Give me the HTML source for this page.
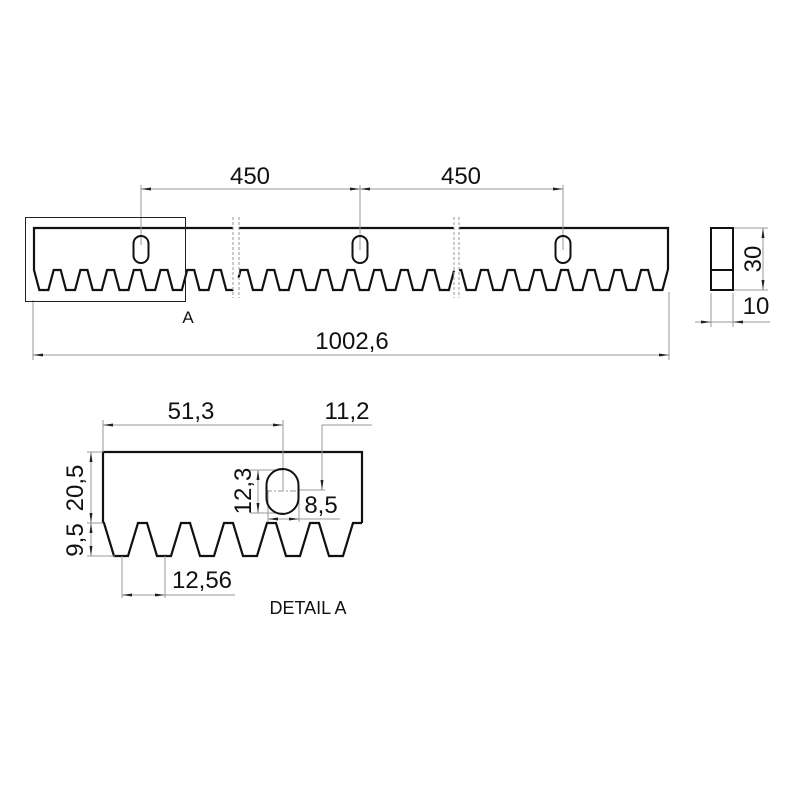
<!DOCTYPE html>
<html><head><meta charset="utf-8"><style>
html,body{margin:0;padding:0;background:#fff;}
svg{display:block;}
text{font-family:"Liberation Sans",sans-serif;fill:#111;}
</style></head><body>
<svg id="s" width="800" height="800" viewBox="0 0 800 800" xmlns="http://www.w3.org/2000/svg">
<defs>
<marker id="ar" markerWidth="10" markerHeight="6" refX="10" refY="3" orient="auto-start-reverse" markerUnits="userSpaceOnUse">
<path d="M0,1.5 L10,3 L0,4.5 Z" fill="#222"/></marker>
</defs>
<g id="outl" fill="none" stroke="#111" stroke-width="2.2" stroke-linejoin="miter"></g>
<g fill="none" stroke="#999" stroke-width="1">
<line x1="233" y1="217" x2="233" y2="298" stroke-dasharray="3,2"/>
<line x1="239" y1="217" x2="239" y2="298" stroke-dasharray="3,2"/>
<line x1="454" y1="217" x2="454" y2="298" stroke-dasharray="3,2"/>
<line x1="459" y1="217" x2="459" y2="298" stroke-dasharray="3,2"/>
<line x1="141" y1="185" x2="141" y2="245"/>
<line x1="360" y1="185" x2="360" y2="250"/>
<line x1="563" y1="185" x2="563" y2="250"/>
<line x1="141" y1="189" x2="360" y2="189" marker-start="url(#ar)" marker-end="url(#ar)"/>
<line x1="360" y1="189" x2="563" y2="189" marker-start="url(#ar)" marker-end="url(#ar)"/>
<line x1="33" y1="300" x2="33" y2="360"/>
<line x1="669" y1="292" x2="669" y2="360"/>
<line x1="33" y1="355" x2="669" y2="355" marker-start="url(#ar)" marker-end="url(#ar)"/>
<line x1="733" y1="228" x2="768" y2="228"/>
<line x1="733" y1="290" x2="768" y2="290"/>
<line x1="763" y1="228" x2="763" y2="290" marker-start="url(#ar)" marker-end="url(#ar)"/>
<line x1="711" y1="293" x2="711" y2="327"/>
<line x1="733" y1="293" x2="733" y2="327"/>
<line x1="695" y1="322" x2="711" y2="322" marker-end="url(#ar)"/>
<line x1="770" y1="322" x2="733" y2="322" marker-end="url(#ar)"/>
<line x1="711" y1="322" x2="733" y2="322"/>
<line x1="103" y1="420" x2="103" y2="452"/>
<line x1="283" y1="420" x2="283" y2="490"/>
<line x1="103" y1="425" x2="283" y2="425" marker-start="url(#ar)" marker-end="url(#ar)"/>
<line x1="322" y1="425" x2="372" y2="425"/>
<line x1="322" y1="425" x2="322" y2="490" marker-end="url(#ar)"/>
<line x1="299" y1="490" x2="325" y2="490"/>
<line x1="250" y1="470" x2="283" y2="470"/>
<line x1="250" y1="513" x2="283" y2="513"/>
<line x1="258" y1="470" x2="258" y2="513" marker-start="url(#ar)" marker-end="url(#ar)"/>
<line x1="268" y1="490" x2="268" y2="522"/>
<line x1="299" y1="500" x2="299" y2="522"/>
<line x1="268" y1="519" x2="299" y2="519" marker-start="url(#ar)" marker-end="url(#ar)"/>
<line x1="299" y1="519" x2="340" y2="519"/>
<line x1="87" y1="452" x2="103" y2="452"/>
<line x1="87" y1="523" x2="103" y2="523"/>
<line x1="87" y1="556" x2="115" y2="556"/>
<line x1="91" y1="452" x2="91" y2="523" marker-start="url(#ar)" marker-end="url(#ar)"/>
<line x1="91" y1="523" x2="91" y2="556" marker-start="url(#ar)" marker-end="url(#ar)"/>
<line x1="122" y1="556" x2="122" y2="598"/>
<line x1="165" y1="556" x2="165" y2="598"/>
<line x1="122" y1="595" x2="165" y2="595" marker-start="url(#ar)" marker-end="url(#ar)"/>
<line x1="165" y1="595" x2="235" y2="595"/>
<line x1="266" y1="491" x2="299" y2="491" stroke-dasharray="6,2,2,2"/>
</g>
<rect x="25.5" y="217.5" width="160" height="84" fill="none" stroke="#222" stroke-width="1"/>
<rect x="711" y="228" width="22" height="62" fill="none" stroke="#111" stroke-width="2"/>
<line x1="711" y1="270" x2="733" y2="270" stroke="#111" stroke-width="2"/>
<g fill="none" stroke="#111" stroke-width="2">
<rect x="133.5" y="236" width="15" height="27" rx="7.5"/>
<rect x="352.5" y="236" width="15" height="27" rx="7.5"/>
<rect x="555.5" y="236" width="15" height="27" rx="7.5"/>
<rect x="266.5" y="469" width="32" height="45" rx="16"/>
</g>
<text x="250" y="184" font-size="24" text-anchor="middle">450</text>
<text x="461" y="184" font-size="24" text-anchor="middle">450</text>
<text x="352" y="349" font-size="24" text-anchor="middle">1002,6</text>
<text x="188" y="323" font-size="17" text-anchor="middle">A</text>
<text x="756" y="314" font-size="24" text-anchor="middle">10</text>
<text transform="translate(761,259) rotate(-90)" font-size="24" text-anchor="middle">30</text>
<text x="191" y="419" font-size="24" text-anchor="middle">51,3</text>
<text x="347" y="419" font-size="24" text-anchor="middle">11,2</text>
<text x="321" y="513" font-size="24" text-anchor="middle">8,5</text>
<text transform="translate(251,491) rotate(-90)" font-size="24" text-anchor="middle">12,3</text>
<text transform="translate(83,488) rotate(-90)" font-size="24" text-anchor="middle">20,5</text>
<text transform="translate(83,540) rotate(-90)" font-size="24" text-anchor="middle">9,5</text>
<text x="202" y="588" font-size="24" text-anchor="middle">12,56</text>
<text x="308" y="614" font-size="18" text-anchor="middle">DETAIL A</text>
</svg>
<script>
function prof(x,t0,p,tw,rw,yb,yt){
  var fl=(p-tw-rw)/2;
  var u=((x-(t0-tw/2))%p+p)%p;
  if(u<=tw) return yb;
  if(u<=tw+fl) return yb+(yt-yb)*(u-tw)/fl;
  if(u<=tw+fl+rw) return yt;
  return yt+(yb-yt)*(u-tw-fl-rw)/fl;
}
function seg(x0,x1,t0,p,tw,rw,yb,yt){
  var fl=(p-tw-rw)/2;
  var bps=[x0];
  var start=t0-tw/2 - p*Math.ceil((t0-tw/2-x0)/p+1);
  for(var b=start;b<x1;b+=p){
    [0,tw,tw+fl,tw+fl+rw].forEach(function(o){var x=b+o; if(x>x0&&x<x1) bps.push(x);});
  }
  bps.push(x1); bps.sort(function(a,b){return a-b});
  return bps.map(function(x){return x.toFixed(2)+","+prof(x,t0,p,tw,rw,yb,yt).toFixed(2)}).join(" ");
}
var g=document.getElementById('outl'), NS="http://www.w3.org/2000/svg";
function pl(pts){var e=document.createElementNS(NS,'polyline');e.setAttribute('points',pts);g.appendChild(e);}
var P=26.7,TW=7,RW=9,T0=30.5;
pl("233.5,228 34,228 34,270 "+seg(34,233.5,T0,P,TW,RW,270,290));
pl("238.5,228 454,228");
pl(seg(238.5,454,T0,P,TW,RW,270,290));
pl("459,228 668,228 668,270");
pl(seg(459,668,T0,P,TW,RW,270,290));
pl("103,523 103,452 362,452 362,523");
pl(seg(103,362,99.5,43,9,14,523,556));
</script>
</body></html>
